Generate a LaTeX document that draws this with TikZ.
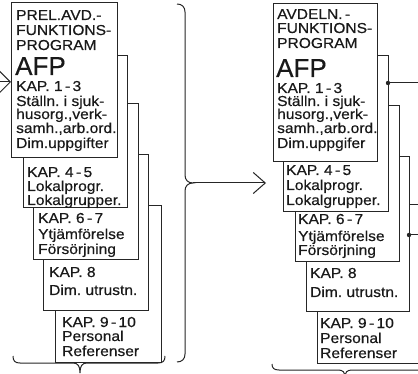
\documentclass[tikz,border=0pt]{standalone}
\usepackage{fontspec}
\setmainfont[FakeStretch=1.08,FakeBold=0.4]{Liberation Sans}
\newfontfamily\afpfont[FakeBold=0.4]{Liberation Sans}
\usetikzlibrary{arrows.meta}
\tikzset{
  ink/.style={draw=black!85, line width=1pt},
  sheet/.style={ink, fill=white, anchor=north west, inner sep=0pt, outer sep=0pt},
  txt/.style={anchor=base west, inner sep=0pt, text=black!90, font=\fontsize{14.4}{14}\selectfont},
  bigtxt/.style={anchor=base west, inner sep=0pt, text=black!90, font=\afpfont\fontsize{26}{26}\selectfont},
  barb/.style={-{Straight Barb[length=11pt,width=22pt,line width=1pt]}},
  dot/.style={fill=black!85}
}
% one line of text in a sheet
\newcommand\tline[4]{\node[txt] (#1) at (#2,#3) {#4};}
\begin{document}
\begin{tikzpicture}[x=1pt,y=-1pt]
\clip (0,0) rectangle (418,374);
\fill[white] (0,0) rectangle (418,374);

% ---------- left stack: preliminary programme ----------
\node[sheet, minimum width=106pt, minimum height=156pt] (L5) at (55,206) {};
\tline{l5a}{62}{327}{KAP.\ 9\,-\,10}
\tline{l5b}{62}{341}{Personal}
\tline{l5c}{62}{356}{Referenser}

\node[sheet, minimum width=105pt, minimum height=156pt] (L4) at (43,155) {};
\tline{l4a}{49}{277}{KAP.\ 8}
\tline{l4b}{49}{295}{Dim.\ utrustn.}

\node[sheet, minimum width=105pt, minimum height=156pt] (L3) at (33,104) {};
\tline{l3a}{38}{223}{KAP.\ 6\,-\,7}
\tline{l3b}{38}{239}{Ytjämförelse}
\tline{l3c}{38}{254}{Försörjning}

\node[sheet, minimum width=104pt, minimum height=152pt] (L2) at (23,56) {};
\tline{l2a}{27}{177}{KAP.\ 4\,-\,5}
\tline{l2b}{27}{191}{Lokalprogr.}
\tline{l2c}{27}{205}{Lokalgrupper.}

\node[sheet, minimum width=106pt, minimum height=155pt] (L1) at (11,3) {};
\tline{l1a}{16}{20}{PREL.AVD.-}
\tline{l1b}{16}{35}{FUNKTIONS-}
\tline{l1c}{16}{50}{PROGRAM}
\node[bigtxt] (l1d) at (15,75) {AFP};
\tline{l1e}{16}{91}{KAP.\ 1\,-\,3}
\tline{l1f}{16}{106}{Ställn.\ i sjuk-}
\tline{l1g}{16}{119}{husorg.,verk-}
\tline{l1h}{16}{133}{samh.,arb.ord.}
\tline{l1i}{16}{148}{Dim.uppgifter}

% ---------- right stack: department programme ----------
\node[sheet, minimum width=106pt, minimum height=158pt] (R5) at (317,205) {};
\tline{r5a}{320}{328}{KAP.\ 9\,-\,10}
\tline{r5b}{320}{343}{Personal}
\tline{r5c}{320}{358}{Referenser}

\node[sheet, minimum width=103pt, minimum height=155pt] (R4) at (306,157) {};
\tline{r4a}{310}{278}{KAP.\ 8}
\tline{r4b}{310}{297}{Dim.\ utrustn.}

\node[sheet, minimum width=104pt, minimum height=156pt] (R3) at (295,106) {};
\tline{r3a}{298}{224}{KAP.\ 6\,-\,7}
\tline{r3b}{298}{241}{Ytjämförelse}
\tline{r3c}{298}{255}{Försörjning}

\node[sheet, minimum width=105pt, minimum height=156pt] (R2) at (283,56) {};
\tline{r2a}{286}{175}{KAP.\ 4\,-\,5}
\tline{r2b}{286}{190}{Lokalprogr.}
\tline{r2c}{286}{205}{Lokalgrupper.}

\node[sheet, minimum width=104pt, minimum height=158pt] (R1) at (273,4) {};
\tline{r1a}{277}{19}{AVDELN.\,-}
\tline{r1b}{277}{33}{FUNKTIONS-}
\tline{r1c}{277}{48}{PROGRAM}
\node[bigtxt] (r1d) at (276,77) {AFP};
\tline{r1e}{277}{93}{KAP.\ 1\,-\,3}
\tline{r1f}{277}{106}{Ställn.\ i sjuk-}
\tline{r1g}{277}{119}{husorg.,verk-}
\tline{r1h}{277}{133}{samh.,arb.ord.}
\tline{r1i}{277}{148}{Dim.uppgifer}

% ---------- incoming arrow ----------
\coordinate (inL) at (0,82);
\draw[ink, barb] (inL) -- (inL -| L1.west);

% ---------- brace collecting the left stack ----------
\draw[ink] (177,4) .. controls (182,4) and (185,7) .. (185,12)
  -- (185,175) .. controls (185,180) and (188,183) .. (193,183)
  .. controls (188,183) and (185,186) .. (185,191)
  -- (185,354) .. controls (185,359) and (182,362) .. (177,362);
\coordinate (braceTip) at (193,183);
\coordinate (arrowEnd) at (266,183);
\draw[ink, -{Straight Barb[length=12pt,width=21pt,line width=1pt]}] (braceTip) -- (arrowEnd);

% ---------- braces under the stacks ----------
\draw[ink] (13,356) .. controls (13,361) and (15,363) .. (20,363) -- (73,363)
  .. controls (78,363) and (80,366) .. (80,373)
  .. controls (80,366) and (82,363) .. (87,363) -- (158,363)
  .. controls (163,363) and (165,361) .. (165,356);
\draw[ink] (272,364) .. controls (272,368) and (274,370) .. (279,370) -- (338,370)
  .. controls (343,370) and (345,372) .. (345,378)
  .. controls (345,372) and (347,370) .. (352,370) -- (430,370);

% ---------- outgoing taps on the right ----------
\coordinate (jA) at (R2.east |- 0,83);
\coordinate (jB) at (R4.east |- 0,235);
\draw[ink] (jA) -- ++(40,0);
\draw[ink] (jB) -- ++(20,0);
\fill[dot] (jA) circle (2.2pt);
\fill[dot] (jB) circle (2.2pt);
\end{tikzpicture}
\end{document}
